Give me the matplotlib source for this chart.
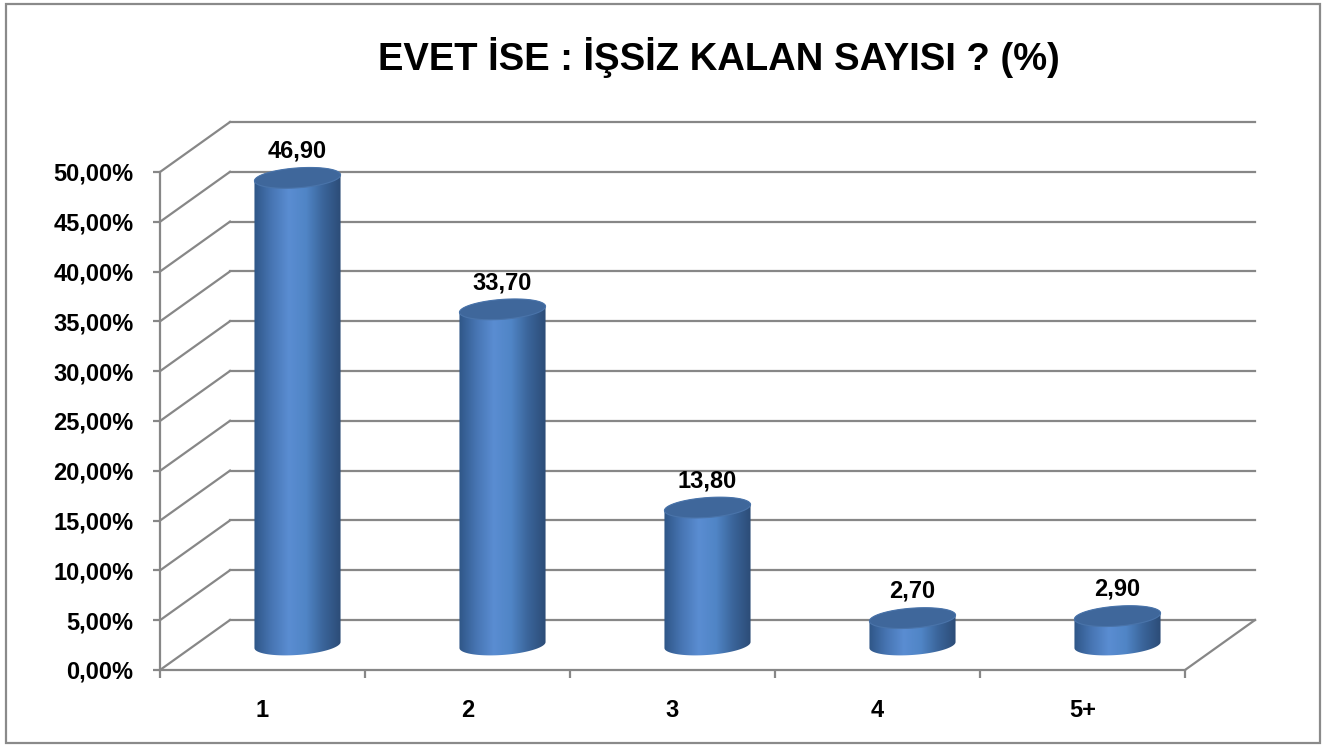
import numpy as np
import matplotlib
matplotlib.use('Agg')
import matplotlib.pyplot as plt
from matplotlib.patches import Polygon, Rectangle
from matplotlib.colors import LinearSegmentedColormap

# data
categories = ['1', '2', '3', '4', '5+']
values = [46.90, 33.70, 13.80, 2.70, 2.90]
y_ticks = [0, 5, 10, 15, 20, 25, 30, 35, 40, 45, 50]
title = 'EVET İSE : İŞSİZ KALAN SAYISI ? (%)'

plt.rcParams['font.family'] = ['Liberation Sans', 'DejaVu Sans']
plt.rcParams['font.weight'] = 'bold'

grid_col = '#878787'
depth_dx, depth_dy = 0.3415, 5.02   # back-wall offset in data units
rx, ry, shear = 0.21, 1.0, 0.3       # cylinder radius / ellipse shape

fig = plt.figure(figsize=(13.31, 7.47), dpi=100)
ax = fig.add_axes([160 / 1331, 77 / 747, 1095 / 1331, 548 / 747])
ax.set_xlim(0, 5 + depth_dx)
ax.set_ylim(0, 50 + depth_dy)
ax.patch.set_alpha(0)

# back wall grid lines + side diagonals
for v in y_ticks:
    ax.plot([depth_dx, 5 + depth_dx], [v + depth_dy, v + depth_dy], color=grid_col, lw=1.6, zorder=1, clip_on=False)
    ax.plot([0, depth_dx], [v, v + depth_dy], color=grid_col, lw=1.6, zorder=1, clip_on=False)
# floor right edge
ax.plot([5, 5 + depth_dx], [0, depth_dy], color=grid_col, lw=1.6, zorder=1, clip_on=False)

# cylinder gradient
cmap = LinearSegmentedColormap.from_list('cyl', ['#2f5687', '#4775b3', '#5a8dd2', '#5085c6', '#3a6499', '#2c4c77'])
grad = np.linspace(0, 1, 256).reshape(1, -1)

theta = np.linspace(0, 2 * np.pi, 200)
for i, val in enumerate(values):
    cx = i + 0.5 + depth_dx / 2
    base = depth_dy / 2
    top = base + val

    def ell(cy, th):
        return cx + rx * np.cos(th), cy + ry * np.sin(th) + shear * np.cos(th)

    bx, by = ell(base, np.linspace(np.pi, 2 * np.pi, 100))
    tx, ty = ell(top, np.linspace(0, np.pi, 100))
    body = Polygon(np.column_stack([np.r_[bx, tx], np.r_[by, ty]]), closed=True,
                   facecolor='none', edgecolor='none', zorder=3)
    ax.add_patch(body)
    im = ax.imshow(grad, cmap=cmap, aspect='auto', zorder=3,
                   extent=[cx - rx, cx + rx, base - ry - 1, top + ry + 1])
    im.set_clip_path(body)

    ex, ey = ell(top, theta)
    ax.add_patch(Polygon(np.column_stack([ex, ey]), closed=True, facecolor='#3f679b',
                         edgecolor='#4a74aa', lw=0.8, zorder=4))

    ax.annotate(f'{val:.2f}'.replace('.', ','), (cx, top + ry), xytext=(0, 12),
                textcoords='offset points', ha='center', va='center',
                fontsize=17, fontweight='bold', zorder=5)

# axes styling
for s in ['top', 'right']:
    ax.spines[s].set_visible(False)
ax.spines['left'].set_bounds(0, 50)
ax.spines['bottom'].set_bounds(0, 5)
for s in ['left', 'bottom']:
    ax.spines[s].set_color(grid_col)
    ax.spines[s].set_linewidth(1.6)
    ax.spines[s].set_zorder(1)

ax.set_yticks(y_ticks)
ax.set_yticklabels([f'{v:.2f}%'.replace('.', ',') for v in y_ticks])
ax.tick_params(axis='y', length=5, width=1.6, color=grid_col, pad=14, labelsize=17)
for t in ax.get_yticklabels():
    t.set_fontweight('bold')

ax.set_xticks(np.arange(6))
ax.set_xticklabels([])
ax.set_xticks(np.arange(5) + 0.5, minor=True)
ax.set_xticklabels(categories, minor=True, fontsize=17, fontweight='bold')
ax.tick_params(axis='x', which='major', length=6, width=1.6, color=grid_col)
ax.tick_params(axis='x', which='minor', length=0, pad=21)

fig.text(719 / 1331, 1 - 57 / 747, title, ha='center', va='center', fontsize=27.5, fontweight='bold')

# chart frame
fig.patches.append(Rectangle((6 / 1331, 4 / 747), 1314 / 1331, 739 / 747, transform=fig.transFigure,
                             fill=False, edgecolor='#8a8a8a', lw=1.6))

fig.savefig('out.png', dpi=100)
